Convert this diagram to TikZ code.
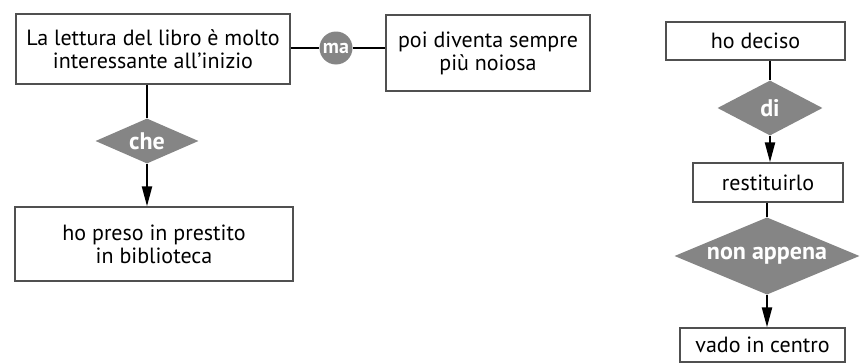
\documentclass[tikz,border=0pt]{standalone}
\usepackage{fontspec}
\setmainfont{PT Sans}
\usetikzlibrary{shapes.geometric,arrows.meta}
\definecolor{boxline}{HTML}{505050}
\definecolor{markfill}{HTML}{858585}
\tikzset{
  textbox/.style={draw=boxline, line width=1.3pt, rectangle, inner sep=0pt, align=center,
    font=\fontsize{22}{23}\selectfont, text=black},
  conj/.style={diamond, fill=markfill, inner sep=0pt, aspect=2,
    font=\bfseries\fontsize{24}{24}\selectfont, text=white},
  conjcirc/.style={circle, fill=markfill, inner sep=0pt, minimum size=33pt,
    font=\bfseries\fontsize{20}{20}\selectfont, text=white},
  link/.style={draw=black, line width=2.2pt},
  arrowlink/.style={link, -{Triangle[length=20pt,width=10pt]}},
}
\begin{document}
\begin{tikzpicture}[x=1pt,y=-1pt]
\useasboundingbox (0,0) rectangle (868,364);
% left group
\node[textbox, minimum width=274pt, minimum height=70pt] (A) at (153,49)
  {La lettura del libro è molto\\interessante all’inizio};
\node[conjcirc] (ma) at (336,48) {ma};
\node[textbox, minimum width=204pt, minimum height=76pt] (B) at (488,53)
  {poi diventa sempre\\più noiosa};
\node[conj, minimum width=103pt, minimum height=45pt] (che) at (147,141) {che};
\node[textbox, minimum width=278pt, minimum height=74pt] (C) at (154,244)
  {ho preso in prestito\\in biblioteca};
\draw[link] (A.east |- ma.west) -- (ma.west);
\draw[link] (ma.east) -- (ma.east -| B.west);
\draw[link] (che.north |- A.south) -- (che.north);
\draw[arrowlink] (che.south) -- (che.south |- C.north);
% right group
\node[textbox, minimum width=179pt, minimum height=38pt] (D) at (755.5,41) {ho deciso};
\node[conj, minimum width=105pt, minimum height=55pt] (di) at (770,108) {di};
\node[textbox, minimum width=150pt, minimum height=39pt] (E) at (768,182.5) {restituirlo};
\node[conj, minimum width=185pt, minimum height=57pt] (na) at (767,256) {non appena};
\node[textbox, minimum width=165pt, minimum height=34pt] (F) at (762.5,345) {vado in centro};
\draw[link] (di.north |- D.south) -- (di.north);
\draw[arrowlink] (di.south) -- (di.south |- E.north);
\draw[link] (na.north |- E.south) -- (na.north);
\draw[arrowlink] (na.south) -- (na.south |- F.north);
\end{tikzpicture}
\end{document}
